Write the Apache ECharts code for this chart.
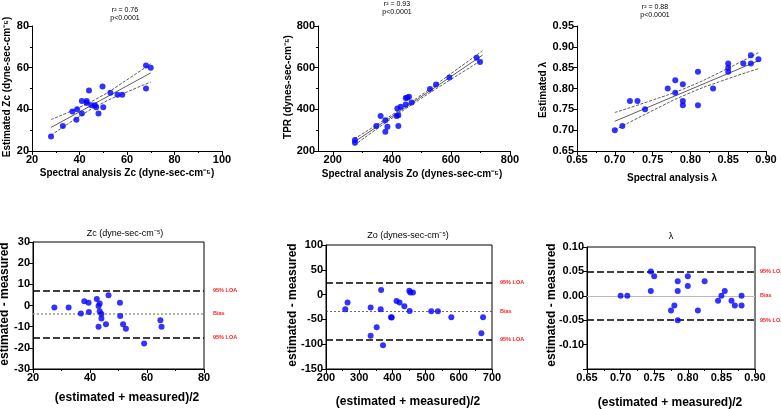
<!DOCTYPE html>
<html>
<head>
<meta charset="utf-8">
<script src="https://cdn.jsdelivr.net/npm/echarts@6/dist/echarts.min.js"></script>
<style>html,body{margin:0;padding:0;background:#fff}#c{width:781px;height:409px}</style>
</head>
<body>
<div id="c"></div>
<script>
// ---------- Top row: regression panels (measured vs estimated) ----------
const zcMeasured  = [28,33,37,39,38.7,41,41,44,43,43,45,46.5,47,48,49.7,50,53,56,58,68,70,68];
const zcEstimated = [27,32,39,40,35,44,38,49,44,43,42,42,41,38,51,41,48,47,47,61,60,50];
const zcFitX   = [28,38.5,49,59.5,70];
const zcFit    = [31.3,37.85,44.4,50.95,57.5];
const zcUpper  = [35.1,40.2,46.2,53.8,61.9];
const zcLower  = [27.5,35.5,42.6,48.1,53.1];

const zoMeasured  = [275,275,347.5,362,378,378,385,416,418.6,422,430,422,447,447,458,452,467,529,549.5,594.7,687,698.5];
const zoEstimated = [252.7,240,320,368,348,292.5,316.5,367.5,404,372,412,320,423,455,460,456,433,498,519,552.6,648,627.6];
const zoFitX  = [273,381.5,490,598.5,707];
const zoFit   = [243,347.3,451.5,555.8,660];
const zoUpper = [258,355.8,459.3,569.5,681.4];
const zoLower = [228,338.8,443.7,542.1,638.6];

const lamMeasured  = [0.70,0.71,0.72,0.73,0.74,0.77,0.78,0.78,0.79,0.79,0.79,0.81,0.81,0.83,0.85,0.85,0.85,0.87,0.88,0.88,0.89];
const lamEstimated = [0.70,0.71,0.77,0.77,0.75,0.80,0.82,0.79,0.81,0.77,0.76,0.84,0.76,0.80,0.86,0.85,0.84,0.86,0.88,0.86,0.87];
const lamFitX  = [0.70,0.7475,0.795,0.8425,0.89];
const lamFit   = [0.7214,0.7577,0.7940,0.8304,0.8667];
const lamUpper = [0.7424,0.7707,0.8020,0.8419,0.8859];
const lamLower = [0.7004,0.7447,0.7860,0.8189,0.8475];

const r2Texts = ['r\u00B2 = 0.76','r\u00B2 = 0.93','r\u00B2 = 0.88'];
const pText = 'p<0.0001';

// ---------- Bottom row: Bland-Altman panels ----------
const baZcMean = [27.5,32.5,36.8,38,39.5,39.6,42.4,43,43.4,43.4,44,44,43,45.6,46.5,50.5,50.6,51.6,52.6,59,64.7,65.1];
const baZcDiff = [-1,-1,-3.8,2,1.3,-3.1,3.1,-0.2,0.9,-2.7,-4,-6.1,-10,-8.9,4.9,1.3,-5,-8.9,-11,-18,-7,-10];
const baZcLines = [7,-4,-15]; // upper LOA, bias, lower LOA

const baZoMean = [258,265,334.5,334.5,366,364.7,352.6,371.7,395.8,398,412.5,421.5,436,451,454,452,462,517,537,577.5,673,668];
const baZoDiff = [-29.5,-16,-26,-83,9.4,-29.5,-66,-102,-45.5,-46,-12.7,-16,-23.4,8,4,-33,4,-33.5,-33.5,-45.5,-45.5,-78];
const baZoLines = [24.5,-33.5,-91.5];

const baLamMean = [0.70,0.71,0.745,0.75,0.745,0.785,0.785,0.785,0.78,0.775,0.80,0.80,0.815,0.825,0.845,0.85,0.855,0.865,0.87,0.88,0.88];
const baLamDiff = [0,0,0.05,0.04,0.01,0.03,0.01,-0.05,-0.02,-0.03,0.04,0.02,-0.03,0.03,-0.01,0,0.01,-0.01,-0.02,0,-0.02];
const baLamLines = [0.053,0,-0.051];

const loaLabel = '95% LOA';
const biasLabel = 'Bias';

// ---------- helpers ----------
const FONT = 'Liberation Sans, Arial, sans-serif';
const zip = (a,b) => a.map((v,i)=>[v,b[i]]);
const fmt2 = v => (Math.round(v*100)/100).toFixed(2);
const fmt0 = v => String(Math.round(v));

const grids = [
  {left:32, top:26, width:190, height:125},
  {left:318,top:26, width:192, height:125},
  {left:577,top:26, width:189, height:125},
  {left:33, top:242,width:171, height:127, show:true, borderColor:'#000', borderWidth:1},
  {left:326,top:245,width:166, height:124, show:true, borderColor:'#000', borderWidth:1},
  {left:587,top:247,width:168, height:122, show:true, borderColor:'#000', borderWidth:1}
];

function lbl(extra){ return Object.assign({color:'#000',fontSize:11,fontWeight:'bold',fontFamily:FONT,margin:3}, extra||{}); }
function axis(gi, o){
  return Object.assign({
    type:'value', gridIndex:gi, scale:false,
    axisLine:{show:true, onZero:false, lineStyle:{color:'#000', width:1}},
    axisTick:{show:true, length:4, lineStyle:{color:'#000', width:1}},
    axisLabel:lbl(),
    splitLine:{show:false}
  }, o);
}
function minor(n){ return {show:true, splitNumber:n, length:2, lineStyle:{color:'#000', width:1}}; }

const xAxes = [
  axis(0,{position:'bottom',min:20,max:100,interval:20, minorTick:minor(2), axisLabel:lbl({formatter:fmt0})}),
  axis(1,{position:'bottom',min:150,max:800,interval:50,
    axisTick:{show:true,length:4,customValues:[200,400,600,800],lineStyle:{color:'#000'}},
    axisLabel:lbl({customValues:[200,400,600,800],formatter:fmt0})}),
  axis(2,{position:'bottom',min:0.65,max:0.90,interval:0.05, minorTick:minor(2), axisLabel:lbl({formatter:fmt2})}),
  axis(3,{position:'bottom',min:20,max:80,interval:20, minorTick:minor(2), axisLabel:lbl({formatter:fmt0})}),
  axis(4,{position:'bottom',min:200,max:700,interval:100, minorTick:minor(2), axisLabel:lbl({formatter:fmt0})}),
  axis(5,{position:'bottom',min:0.65,max:0.90,interval:0.05, minorTick:minor(2), axisLabel:lbl({formatter:fmt2})}),
  // minor ticks for the offset Zo axis
  axis(1,{position:'bottom',offset:0,min:150,max:800,interval:50, axisLine:{show:false},
    axisTick:{show:true,length:2,customValues:[300,500,700],lineStyle:{color:'#000'}},
    axisLabel:{show:false}})
];
const yAxes = [
  axis(0,{position:'left',min:20,max:80,interval:20, minorTick:minor(2), axisLabel:lbl({formatter:fmt0})}),
  axis(1,{position:'left',min:200,max:800,interval:200, minorTick:minor(2), axisLabel:lbl({formatter:fmt0})}),
  axis(2,{position:'left',min:0.65,max:0.95,interval:0.05, axisLabel:lbl({formatter:fmt2})}),
  axis(3,{position:'left',min:-30,max:30,interval:10, axisLabel:lbl({formatter:fmt0})}),
  axis(4,{position:'left',min:-150,max:100,interval:50, axisLabel:lbl({formatter:fmt0})}),
  axis(5,{position:'left',min:-0.15,max:0.10,interval:0.05, axisLabel:lbl({
    formatter:v => (Math.abs(v+0.15)<1e-6 ? '' : fmt2(v))})})
];

const series = [];
function scatter(i, xs, ys){
  series.push({type:'scatter', xAxisIndex:i, yAxisIndex:i, data:zip(xs,ys), symbolSize:6,
    itemStyle:{color:'#0000ff'}, z:5});
}
function fitLines(i, fx, c, u, l){
  series.push({type:'line', xAxisIndex:i, yAxisIndex:i, data:zip(fx,c), symbol:'none', smooth:false,
    lineStyle:{color:'#333', width:0.8}, z:3});
  [u,l].forEach(arr => series.push({type:'line', xAxisIndex:i, yAxisIndex:i, data:zip(fx,arr), symbol:'none', smooth:true,
    lineStyle:{color:'#333', width:0.8, type:[3,1.5]}, z:3}));
}
function baPanel(i, xs, ys, lines, biasStyle, dist){
  scatter(i, xs, ys);
  const lab = t => ({show:true, position:'end', formatter:t, color:'#ff2020', fontSize:5.5, fontWeight:'bold', fontFamily:FONT, distance:dist});
  series.push({type:'line', xAxisIndex:i, yAxisIndex:i, data:[], markLine:{silent:true, symbol:'none', animation:false,
    data:[
      {yAxis:lines[0], label:lab(loaLabel), lineStyle:{color:'#000', width:1.5, type:[7,3]}},
      {yAxis:lines[1], label:lab(biasLabel), lineStyle:biasStyle},
      {yAxis:lines[2], label:lab(loaLabel), lineStyle:{color:'#000', width:1.5, type:[7,3]}}
    ]}, z:2});
}

scatter(0, zcMeasured, zcEstimated);   fitLines(0, zcFitX, zcFit, zcUpper, zcLower);
scatter(1, zoMeasured, zoEstimated);   fitLines(1, zoFitX, zoFit, zoUpper, zoLower);
scatter(2, lamMeasured, lamEstimated); fitLines(2, lamFitX, lamFit, lamUpper, lamLower);
baPanel(3, baZcMean, baZcDiff, baZcLines, {color:'#999', width:1.5, type:[2,2]}, 9);
baPanel(4, baZoMean, baZoDiff, baZoLines, {color:'#444', width:0.8, type:[2,2]}, 8);
baPanel(5, baLamMean, baLamDiff, baLamLines, {color:'#bbb', width:1, type:'solid'}, 5);

function txt(x,y,t,size,weight,rot){
  return {type:'text', x:x, y:y, rotation:rot?Math.PI/2:0, silent:true,
    style:{text:t, fontSize:size, fontWeight:weight, fontFamily:FONT, fill:'#000', align:'center', verticalAlign:'middle'}};
}
const graphic = [
  txt(125,10,r2Texts[0],7,'normal'), txt(125,18,pText,7,'normal'),
  txt(397,4.5,r2Texts[1],7,'normal'), txt(397,12,pText,7,'normal'),
  txt(655,7.5,r2Texts[2],7,'normal'), txt(655,15,pText,7,'normal'),
  txt(7,87,'Estimated Zc (dyne-sec-cm\u207B\u2075)',10,'bold',true),
  txt(127,173,'Spectral analysis Zc (dyne-sec-cm\u207B\u2075)',10,'bold'),
  txt(288,87,'TPR (dynes-sec-cm\u207B\u2075)',10,'bold',true),
  txt(412,174,'Spectral analysis Zo (dynes-sec-cm\u207B\u2075)',10,'bold'),
  txt(543,90,'Estimated \u03BB',10,'bold',true),
  txt(672,178,'Spectral analysis \u03BB',10,'bold'),
  txt(125,234,'Zc (dyne-sec-cm\u207B\u2075)',9,'normal'),
  txt(408,236,'Zo (dynes-sec-cm\u207B\u2075)',9,'normal'),
  txt(671,237,'\u03BB',9,'normal'),
  txt(5,304,'estimated - measured',12,'bold',true),
  txt(293,305,'estimated - measured',12,'bold',true),
  txt(552,305,'estimated - measured',12,'bold',true),
  txt(127,398,'(estimated + measured)/2',12,'bold'),
  txt(408,402,'(estimated + measured)/2',12,'bold'),
  txt(670,403,'(estimated + measured)/2',12,'bold')
];

const chart = echarts.init(document.getElementById('c'), null, {renderer:'canvas'});
chart.setOption({
  animation:false, backgroundColor:'#fff',
  grid:grids, xAxis:xAxes, yAxis:yAxes, series:series, graphic:graphic
});
</script>
</body>
</html>
